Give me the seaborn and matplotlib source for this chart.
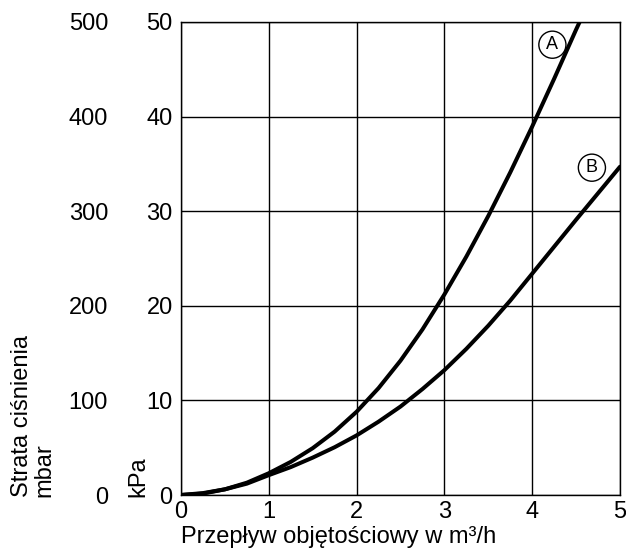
import matplotlib
matplotlib.use("Agg")
import matplotlib.pyplot as plt
import seaborn as sns
import pandas as pd

# Data (flow m³/h -> pressure loss kPa)
flow_a = [0, 0.25, 0.5, 0.75, 1.0, 1.25, 1.5, 1.75, 2.0, 2.25, 2.5, 2.75,
          3.0, 3.25, 3.5, 3.75, 4.0, 4.25, 4.5, 4.6]
kpa_a = [0, 0.15, 0.6, 1.3, 2.3, 3.5, 4.95, 6.7, 8.8, 11.3, 14.2, 17.5,
         21.2, 25.2, 29.5, 34.1, 38.95, 44.0, 49.2, 51.2]
flow_b = [0, 0.25, 0.5, 0.75, 1.0, 1.25, 1.5, 1.75, 2.0, 2.25, 2.5, 2.75,
          3.0, 3.25, 3.5, 3.75, 4.0, 4.25, 4.5, 4.75, 5.0]
kpa_b = [0, 0.2, 0.6, 1.2, 2.1, 2.95, 3.95, 5.05, 6.3, 7.75, 9.35, 11.2,
         13.2, 15.45, 17.9, 20.55, 23.4, 26.25, 29.1, 31.9, 34.7]
x_ticks = [0, 1, 2, 3, 4, 5]
kpa_ticks = [0, 10, 20, 30, 40, 50]
mbar_ticks = [0, 100, 200, 300, 400, 500]
labels = ["A", "B"]
label_pos_x = [4.23, 4.68]
label_pos_y = [47.6, 34.6]

sns.set_theme(style="white")
plt.rcParams['font.family'] = ['Liberation Sans', 'DejaVu Sans']

df = pd.concat([
    pd.DataFrame({"flow": flow_a, "kpa": kpa_a, "curve": "A"}),
    pd.DataFrame({"flow": flow_b, "kpa": kpa_b, "curve": "B"}),
])

FS = 17
fig = plt.figure(figsize=(6.26, 5.49), dpi=100)
ax = fig.add_axes([181/626, 1 - 495/549, (620-181)/626, (495-22)/549])

sns.lineplot(data=df, x="flow", y="kpa", units="curve", estimator=None,
             color="black", linewidth=2.9, ax=ax, sort=False)

ax.set_xlim(0, 5)
ax.set_ylim(0, 50)
ax.set_xticks(x_ticks)
ax.set_yticks(kpa_ticks)
ax.grid(True, color="black", linewidth=1.0)
for s in ax.spines.values():
    s.set_color("black")
    s.set_linewidth(1.0)
ax.tick_params(axis="both", length=0, labelsize=FS, colors="black")
ax.tick_params(axis="y", pad=6)
ax.tick_params(axis="x", pad=4)
ax.set_xlabel("")
ax.set_ylabel("")

# secondary mbar axis
sec = ax.secondary_yaxis((108 - 181) / 439, functions=(lambda v: v * 10, lambda v: v / 10))
sec.set_yticks(mbar_ticks)
sec.tick_params(length=0, labelsize=FS, colors="black", pad=0)
sec.spines["left"].set_visible(False)

# axis titles
fig.text(181/626, 1 - 537/549, "Przepływ objętościowy w m³/h", fontsize=FS,
         ha="left", va="center", color="black")
fig.text(33/626, 1 - 497/549, "Strata ciśnienia\nmbar", fontsize=FS, rotation=90,
         ha="center", va="bottom", color="black", multialignment="left", linespacing=1.0)
fig.text(138/626, 1 - 497/549, "kPa", fontsize=FS, rotation=90,
         ha="center", va="bottom", color="black")

for lab, lx, ly in zip(labels, label_pos_x, label_pos_y):
    ax.text(lx, ly, lab, fontsize=13, ha="center", va="center", color="black",
            bbox=dict(boxstyle="circle,pad=0.28", fc="white", ec="black", lw=1.0))

fig.savefig("out.png", dpi=100)
